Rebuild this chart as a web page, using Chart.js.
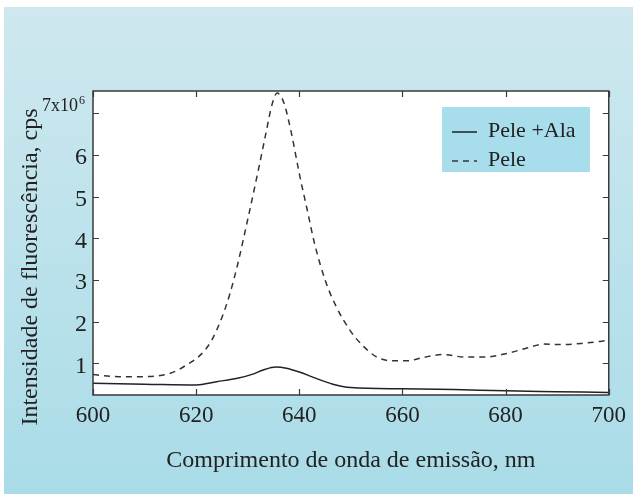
<!DOCTYPE html>
<html>
<head>
<meta charset="utf-8">
<script src="https://cdn.jsdelivr.net/npm/chart.js@4.4.1/dist/chart.umd.min.js"></script>
<style>
html,body{margin:0;padding:0;background:#fff;}
#wrap{width:633px;height:494px;position:relative;}
</style>
</head>
<body>
<div id="wrap"><canvas id="c" width="633" height="494"></canvas></div>
<script>
// ---- data ----
const xTicks = [600, 620, 640, 660, 680, 700];
const yTicks = [1, 2, 3, 4, 5, 6, 7];

const peleWl = [600, 605, 610, 615, 618, 621, 623, 625, 626.5, 628, 630, 632, 633.5, 634.7, 635.7, 637, 638.5, 640, 641.5, 643, 645, 647, 650, 652.5, 655, 658, 661, 664, 668, 672, 676, 680, 684, 687.5, 691, 695, 700];
const peleVal = [0.73, 0.68, 0.68, 0.76, 0.95, 1.22, 1.55, 2.1, 2.65, 3.35, 4.45, 5.6, 6.5, 7.2, 7.48, 7.25, 6.5, 5.55, 4.7, 3.85, 3.0, 2.4, 1.76, 1.4, 1.15, 1.06, 1.06, 1.14, 1.21, 1.15, 1.15, 1.23, 1.36, 1.46, 1.45, 1.48, 1.55];

const alaWl = [600, 610, 620, 624, 628, 631, 633, 635.5, 637.5, 640, 643, 646.5, 650, 660, 670, 680, 690, 700];
const alaVal = [0.52, 0.50, 0.48, 0.56, 0.64, 0.74, 0.84, 0.91, 0.88, 0.79, 0.65, 0.50, 0.42, 0.39, 0.37, 0.34, 0.32, 0.30];

const seriesLabels = ['Pele +Ala', 'Pele'];
const xTitle = 'Comprimento de onda de emissão, nm';
const yTitle = 'Intensidade de fluorescência, cps';

const SERIF = '"Liberation Serif", "DejaVu Serif", serif';
const INK = '#222';

const toPts = (xs, ys) => xs.map((x, i) => ({x: x, y: ys[i]}));

const bgPlugin = {
  id: 'bg',
  beforeDraw(chart) {
    const {ctx, width, height, chartArea: a} = chart;
    ctx.save();
    ctx.fillStyle = '#fff';
    ctx.fillRect(0, 0, width, height);
    const g = ctx.createLinearGradient(0, 7, 0, height);
    g.addColorStop(0, '#cfe8ef');
    g.addColorStop(1, '#a9dce8');
    ctx.fillStyle = g;
    ctx.fillRect(4, 7, width - 4, height - 7);
    ctx.fillStyle = '#fff';
    ctx.fillRect(a.left, a.top, a.right - a.left, a.bottom - a.top);
    ctx.restore();
  }
};

const framePlugin = {
  id: 'frame',
  afterDraw(chart) {
    const {ctx, chartArea: a, scales} = chart;
    const xs = scales.x, ys = scales.y;
    ctx.save();
    ctx.strokeStyle = '#3a3a3a';
    ctx.lineWidth = 1.5;
    ctx.strokeRect(a.left, a.top, a.right - a.left, a.bottom - a.top);
    ctx.lineWidth = 1.2;
    ctx.beginPath();
    const L = 6;
    xTicks.forEach(v => {
      const px = Math.round(xs.getPixelForValue(v)) + 0.5;
      ctx.moveTo(px, a.bottom); ctx.lineTo(px, a.bottom - L);
      ctx.moveTo(px, a.top); ctx.lineTo(px, a.top + L);
    });
    yTicks.forEach(v => {
      const py = Math.round(ys.getPixelForValue(v)) + 0.5;
      ctx.moveTo(a.left, py); ctx.lineTo(a.left + L, py);
      ctx.moveTo(a.right, py); ctx.lineTo(a.right - L, py);
    });
    ctx.stroke();

    // top y label "7x10^6"
    const top = yTicks[yTicks.length - 1];
    const py = ys.getPixelForValue(top);
    ctx.fillStyle = INK;
    ctx.textBaseline = 'alphabetic';
    ctx.textAlign = 'left';
    ctx.font = '18px ' + SERIF;
    const main = top + 'x10';
    const w = ctx.measureText(main).width;
    const sx = 78 - w;
    ctx.fillText(main, sx, py - 2);
    ctx.font = '12px ' + SERIF;
    ctx.fillText('6', sx + w + 1, py - 9);

    // y axis title (rotated)
    ctx.save();
    ctx.translate(31, 267);
    ctx.rotate(-Math.PI / 2);
    ctx.font = '24px ' + SERIF;
    ctx.textAlign = 'center';
    ctx.textBaseline = 'middle';
    ctx.fillStyle = INK;
    ctx.fillText(yTitle, 0, 0);
    ctx.restore();

    // legend box
    const lx = 442, ly = 107, lw = 148, lh = 65;
    ctx.fillStyle = '#a8ddec';
    ctx.fillRect(lx, ly, lw, lh);
    ctx.font = '22px ' + SERIF;
    ctx.textAlign = 'left';
    ctx.textBaseline = 'alphabetic';
    chart.data.datasets.forEach((ds, i) => {
      const yy = ly + 27 + i * 29;
      ctx.strokeStyle = ds.borderColor;
      ctx.lineWidth = 1.5;
      ctx.setLineDash(ds.borderDash || []);
      ctx.beginPath();
      ctx.moveTo(lx + 10, yy - 2);
      ctx.lineTo(lx + 35, yy - 2);
      ctx.stroke();
      ctx.setLineDash([]);
      ctx.fillStyle = INK;
      ctx.fillText(ds.label, lx + 46, yy + 3);
    });
    ctx.restore();
  }
};

new Chart(document.getElementById('c'), {
  type: 'line',
  data: {
    datasets: [
      {
        label: seriesLabels[0],
        data: toPts(alaWl, alaVal),
        borderColor: '#222',
        borderWidth: 1.5,
        pointRadius: 0,
        tension: 0.4,
        cubicInterpolationMode: 'monotone',
        fill: false
      },
      {
        label: seriesLabels[1],
        data: toPts(peleWl, peleVal),
        borderColor: '#333',
        borderWidth: 1.5,
        borderDash: [6, 5],
        pointRadius: 0,
        tension: 0.4,
        cubicInterpolationMode: 'monotone',
        fill: false
      }
    ]
  },
  options: {
    responsive: false,
    animation: false,
    devicePixelRatio: 1,
    layout: {padding: {left: 0, right: 24, top: 91, bottom: 0}},
    plugins: {legend: {display: false}, tooltip: {enabled: false}},
    scales: {
      x: {
        type: 'linear',
        min: 600, max: 700,
        grid: {display: false, drawTicks: false},
        border: {display: false},
        afterBuildTicks: s => { s.ticks = xTicks.map(v => ({value: v})); },
        afterFit: s => { s.height = 99; },
        ticks: {
          font: {family: SERIF, size: 23},
          color: INK,
          padding: 7,
          maxRotation: 0,
          autoSkip: false
        },
        title: {
          display: true,
          text: xTitle,
          font: {family: SERIF, size: 24, lineHeight: 1.2},
          color: INK,
          padding: {top: 0, bottom: 19}
        }
      },
      y: {
        type: 'linear',
        min: 0.24, max: 7.53,
        grid: {display: false, drawTicks: false},
        border: {display: false},
        afterBuildTicks: s => { s.ticks = yTicks.map(v => ({value: v})); },
        afterFit: s => { s.width = 93; },
        ticks: {
          font: {family: SERIF, size: 24},
          color: INK,
          padding: 6,
          labelOffset: 3,
          autoSkip: false,
          callback: v => (v === yTicks[yTicks.length - 1] ? '' : String(v))
        },
        title: {display: false}
      }
    }
  },
  plugins: [bgPlugin, framePlugin]
});
</script>
</body>
</html>
